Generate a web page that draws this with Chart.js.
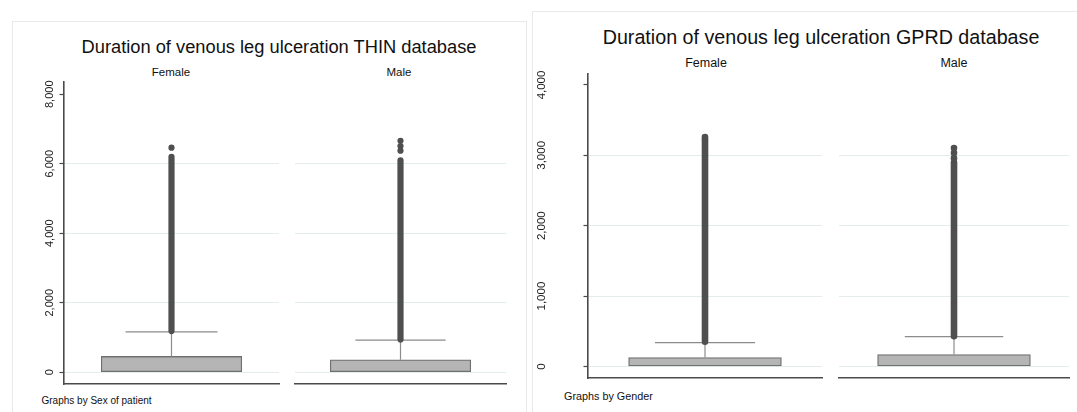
<!DOCTYPE html>
<html>
<head>
<meta charset="utf-8">
<title>Duration of venous leg ulceration</title>
<script src="https://cdn.jsdelivr.net/npm/chart.js@4.4.1/dist/chart.umd.min.js"></script>
<style>
  html, body { margin: 0; padding: 0; background: #fff; }
  body {
    width: 1077px; height: 412px; position: relative; overflow: hidden;
    font-family: "Liberation Sans", Arial, sans-serif; color: #111;
  }
  .frame { position: absolute; border: 1px solid #e6eaea; box-sizing: border-box; }
  .txt { position: absolute; white-space: nowrap; line-height: 1; }
  .mid { transform: translateX(-50%); }
  canvas { position: absolute; }
</style>
</head>
<body>

<!-- graph region outlines -->
<div class="frame" style="left:12px; top:21px; width:515px; height:430px;"></div>
<div class="frame" style="left:532px; top:11px; width:560px; height:440px;"></div>

<!-- THIN panel text -->
<div class="txt mid" style="left:279px; top:38.3px; font-size:18.3px;">Duration of venous leg ulceration THIN database</div>
<div class="txt mid" style="left:171px; top:67.4px; font-size:11.5px;">Female</div>
<div class="txt mid" style="left:399px; top:67.4px; font-size:11.5px;">Male</div>
<div class="txt" style="left:41.5px; top:396.4px; font-size:10px;">Graphs by Sex of patient</div>

<!-- GPRD panel text -->
<div class="txt mid" style="left:821px; top:27.6px; font-size:19.7px;">Duration of venous leg ulceration GPRD database</div>
<div class="txt mid" style="left:706px; top:57.2px; font-size:12.5px;">Female</div>
<div class="txt mid" style="left:954px; top:57.2px; font-size:12.5px;">Male</div>
<div class="txt" style="left:564px; top:391px; font-size:10.8px;">Graphs by Gender</div>

<canvas id="thinFemale" width="263" height="312" style="left:20px; top:76px;"></canvas>
<canvas id="thinMale" width="219" height="312" style="left:291px; top:76px;"></canvas>
<canvas id="gprdFemale" width="306" height="314" style="left:520px; top:68px;"></canvas>
<canvas id="gprdMale" width="238" height="314" style="left:835px; top:68px;"></canvas>

<script>
// duration of ulceration (days), by sex: Female, Male
const groups = ['Female', 'Male'];

// THIN database
const thinQ1 = [0, 0];
const thinQ3 = [456, 358];
const thinUpperWhisker = [1160, 923];
const thinOutlierLow = [1185, 943];      // first outlier above the whisker
const thinOutlierHigh = [6200, 6100];    // where the dense run of outliers ends
const thinOutlierTop = [[6464], [6375, 6510, 6662]];
const thinTicks = [0, 2000, 4000, 6000, 8000];
const thinRange = [-338, 8367];

// GPRD database
const gprdQ1 = [0, 0];
const gprdQ3 = [127, 170];
const gprdUpperWhisker = [340, 425];
const gprdOutlierLow = [352, 430];
const gprdOutlierHigh = [3215, 2900];
const gprdOutlierTop = [[3235, 3260], [2960, 3035, 3105]];
const gprdTicks = [0, 1000, 2000, 3000, 4000];
const gprdRange = [-164, 4166];

const FONT = '"Liberation Sans", Arial, sans-serif';
const BOX_FILL = '#b5b5b5';
const BOX_EDGE = '#707070';
const WHISKER = '#8c8c8c';
const OUTLIER = '#4f4f4f';
const AXIS = '#4a4a4a';
const GRID = '#e4eded';
const TEXT = '#1c1c1c';
const BOX_WIDTH = 0.642;   // share of the subplot width
const CAP_HALF = 0.214;

Chart.defaults.font.family = FONT;
Chart.defaults.animation = false;

function boxDatasets(db, i, opts) {
    const mid = 0.5;
    const r = opts.markerRadius;
    return [
        {
            type: 'scatter',
            data: db.top[i].map(function (v) { return { x: mid, y: v }; }),
            pointRadius: r,
            pointBackgroundColor: OUTLIER,
            pointBorderWidth: 0
        },
        {
            // the outliers sit so close together they merge into one column
            type: 'line',
            data: [{ x: mid, y: db.outLow[i] }, { x: mid, y: db.outHigh[i] }],
            borderColor: OUTLIER,
            borderWidth: r * 2,
            borderCapStyle: 'round',
            pointRadius: 0
        },
        {
            type: 'line',
            data: [{ x: mid - CAP_HALF, y: db.upper[i] }, { x: mid + CAP_HALF, y: db.upper[i] }],
            borderColor: WHISKER,
            borderWidth: 1.3,
            pointRadius: 0
        },
        {
            type: 'line',
            data: [{ x: mid, y: db.q3[i] }, { x: mid, y: db.upper[i] }],
            borderColor: WHISKER,
            borderWidth: 1.2,
            pointRadius: 0
        },
        {
            type: 'bar',
            data: [{ x: mid, y: [db.q1[i], db.q3[i]] }],
            backgroundColor: BOX_FILL,
            borderColor: BOX_EDGE,
            borderWidth: 1.3,
            borderSkipped: false,
            barThickness: opts.plotWidth * BOX_WIDTH
        }
    ];
}

function makeSubplot(canvasId, db, i, opts) {
    const ticks = db.ticks;
    const top = ticks[ticks.length - 1];
    return new Chart(document.getElementById(canvasId), {
        type: 'bar',
        data: { datasets: boxDatasets(db, i, opts) },
        options: {
            responsive: false,
            devicePixelRatio: 1,
            events: [],
            layout: { padding: { top: opts.padTop, bottom: opts.padBottom, left: 0, right: 0 } },
            plugins: { legend: { display: false }, tooltip: { enabled: false } },
            scales: {
                x: {
                    type: 'linear',
                    min: 0,
                    max: 1,
                    offset: false,
                    afterFit: function (s) {
                        s.height = 0;
                        s.paddingLeft = 0;
                        s.paddingRight = 0;
                    },
                    grid: { display: false, drawTicks: false, offset: false },
                    ticks: { display: false },
                    border: { display: true, color: AXIS, width: 1.6 }
                },
                y: {
                    type: 'linear',
                    min: db.range[0],
                    max: db.range[1],
                    afterBuildTicks: function (s) {
                        s.ticks = ticks.map(function (v) { return { value: v }; });
                    },
                    afterFit: function (s) {
                        // rotated labels would otherwise shrink the plot height
                        s.width = opts.axisWidth;
                        s.paddingTop = 0;
                        s.paddingBottom = 0;
                    },
                    border: { display: opts.showAxis, color: AXIS, width: 1.6 },
                    grid: {
                        color: function (ctx) {
                            return ctx.tick && ctx.tick.value === top ? 'rgba(0,0,0,0)' : GRID;
                        },
                        lineWidth: 1,
                        drawTicks: opts.showAxis,
                        tickLength: 4.5,
                        tickColor: AXIS,
                        tickWidth: 1.2
                    },
                    ticks: {
                        display: opts.showAxis,
                        minRotation: 90,
                        maxRotation: 90,
                        crossAlign: 'center',
                        padding: opts.labelPad,
                        color: TEXT,
                        font: { size: opts.fontSize },
                        callback: function (v) { return v.toLocaleString('en-US'); }
                    }
                }
            }
        }
    });
}

const thin = {
    q1: thinQ1, q3: thinQ3, upper: thinUpperWhisker,
    outLow: thinOutlierLow, outHigh: thinOutlierHigh, top: thinOutlierTop,
    ticks: thinTicks, range: thinRange
};
const gprd = {
    q1: gprdQ1, q3: gprdQ3, upper: gprdUpperWhisker,
    outLow: gprdOutlierLow, outHigh: gprdOutlierHigh, top: gprdOutlierTop,
    ticks: gprdTicks, range: gprdRange
};

const thinLayout = { padTop: 5.5, padBottom: 3, markerRadius: 3.1, fontSize: 11, plotWidth: 219 };
const gprdLayout = { padTop: 5.3, padBottom: 2.7, markerRadius: 3.3, fontSize: 11.5, plotWidth: 238 };

makeSubplot('thinFemale', thin, 0, Object.assign({}, thinLayout, { showAxis: true, axisWidth: 44, labelPad: -4.5 }));
makeSubplot('thinMale', thin, 1, Object.assign({}, thinLayout, { showAxis: false, axisWidth: 0, labelPad: 0 }));
makeSubplot('gprdFemale', gprd, 0, Object.assign({}, gprdLayout, { showAxis: true, axisWidth: 68, labelPad: 27 }));
makeSubplot('gprdMale', gprd, 1, Object.assign({}, gprdLayout, { showAxis: false, axisWidth: 0, labelPad: 0 }));
</script>
</body>
</html>
